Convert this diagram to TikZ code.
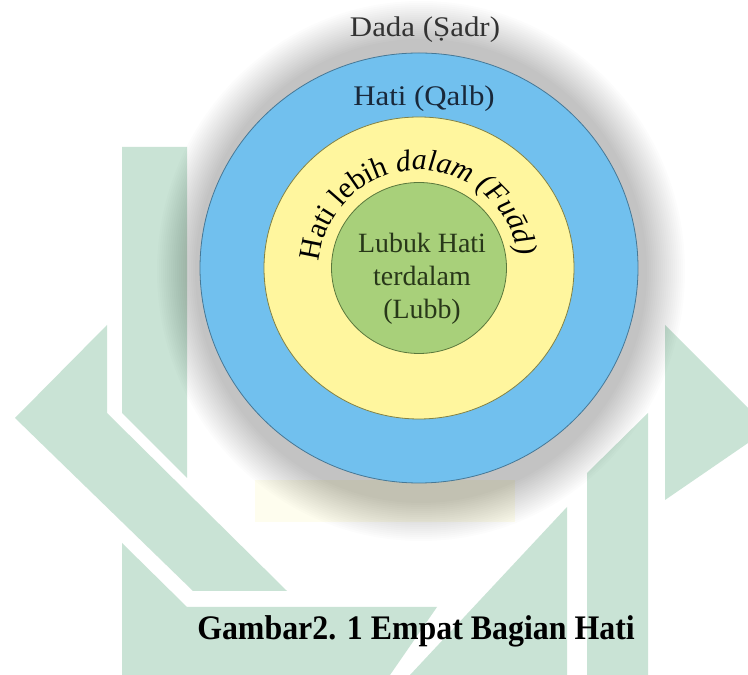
\documentclass[tikz,border=0pt]{standalone}
\usepackage{fontspec}
\setmainfont{Liberation Serif}
\usetikzlibrary{decorations.text}
\definecolor{wmgreen}{RGB}{201,227,213}
\definecolor{wmyellow}{RGB}{254,253,238}
\definecolor{qalbblue}{RGB}{113,192,238}
\definecolor{qalbline}{RGB}{70,120,150}
\definecolor{fuadyellow}{RGB}{255,246,158}
\definecolor{fuadline}{RGB}{130,130,70}
\definecolor{lubbgreen}{RGB}{168,208,122}
\definecolor{lubbline}{RGB}{90,120,60}
\newcommand{\ringfont}{\fontsize{30}{36}\selectfont}
\tikzset{
  logo/.style={fill=wmgreen},
  ring/.style={line width=0.8bp},
  ringtext/.style={anchor=base, font=\fontsize{31}{36}\selectfont, yscale=0.92}
}
\begin{document}
\begin{tikzpicture}[x=1bp,y=1bp]
  \useasboundingbox (0,0) rectangle (748,675);
  \fill[white] (0,0) rectangle (748,675);
  % watermark
  \fill[logo] (122,528) -- (187,528) -- (187,197) -- (122,262) -- cycle;
  \fill[logo] (15,257) -- (107,350) -- (107,262) -- (287,84) -- (193,84) -- cycle;
  \fill[logo] (122,132) -- (187,68) -- (437,68) -- (390,0) -- (122,0) -- cycle;
  \fill[logo] (567,168) -- (567,0) -- (410,0) -- cycle;
  \fill[logo] (587,202) -- (648,262) -- (648,0) -- (587,0) -- cycle;
  \fill[logo] (665,350) -- (748,267) -- (748,232) -- (665,175) -- cycle;
  \fill[wmyellow] (255,153) rectangle (515,195);
  % shadow
  \foreach \k in {0,...,19}
    \fill[black, opacity=0.011] (421,404) ellipse ({264-2*\k} and {270-2*\k});
  % rings
  \draw[ring, fill=qalbblue, draw=qalbline] (419,407) ellipse (219 and 215);
  \draw[ring, fill=fuadyellow, draw=fuadline] (419,407) ellipse (155 and 151);
  \draw[ring, fill=lubbgreen, draw=lubbline] (419,407) ellipse (87.5 and 85.5);
  \node[ringtext, text=black!80] (sadr) at (425,638) {Dada (Ṣadr)};
  \node[ringtext, text={rgb,255:red,25;green,40;blue,58}] (qalb) at (424,569) {Hati (Qalb)};
  \node[anchor=base, align=center, font=\fontsize{28}{33.5}\selectfont,
    text={rgb,255:red,40;green,55;blue,25}] (lubb) at (422,356) {Lubuk Hati\\terdalam\\(Lubb)};
  \path[decorate, decoration={text along path, text align=center,
    text={|\ringfont|Hati lebih |\ringfont\itshape|dalam (Fuād)}}]
    (419,405) ++(177:100) arc[start angle=177, end angle=6, radius=100];
  \node[anchor=base, font=\bfseries\fontsize{32}{38}\selectfont, yscale=1.08] (caption) at (416,35) {Gambar2. 1 Empat Bagian Hati};
\end{tikzpicture}
\end{document}
